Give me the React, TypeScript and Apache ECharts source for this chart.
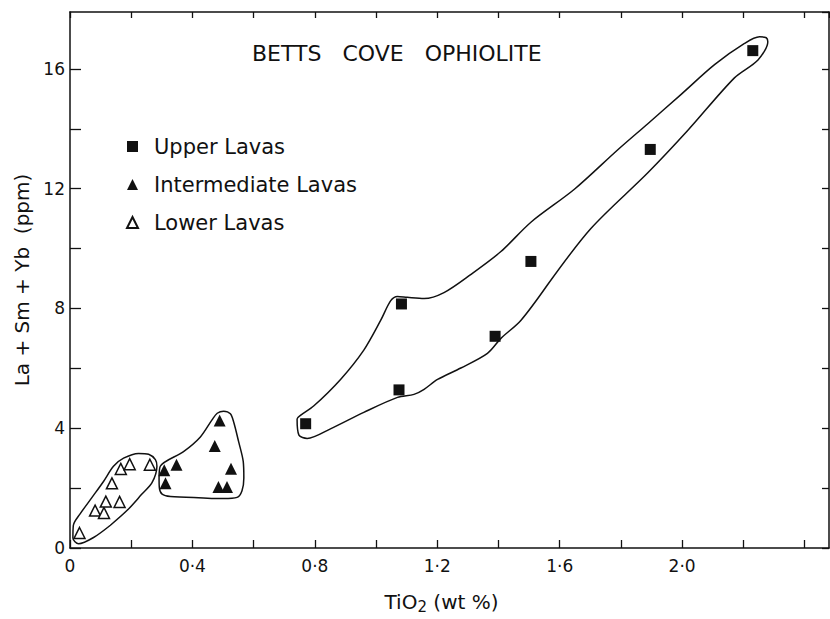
import React, { useEffect, useRef } from 'react';
import * as echarts from 'echarts';

const FONT = '"DejaVu Sans", "Liberation Sans", sans-serif';
const INK = '#111111';

// Axis ranges / ticks
const X_MIN = 0;
const X_MAX = 2.48;
const X_STEP = 0.2;
const Y_MIN = 0;
const Y_MAX = 17.9;
const Y_STEP = 2;

const titleText = 'BETTS   COVE   OPHIOLITE';
const seriesNames = ['Upper Lavas', 'Intermediate Lavas', 'Lower Lavas'];

// Upper Lavas (filled squares)
const upperTiO2 = [0.77, 1.075, 1.083, 1.389, 1.506, 1.896, 2.231];
const upperREE = [4.15, 5.28, 8.15, 7.07, 9.57, 13.31, 16.61];

// Intermediate Lavas (filled triangles)
const interTiO2 = [0.489, 0.473, 0.308, 0.348, 0.312, 0.526, 0.485, 0.513];
const interREE = [4.26, 3.41, 2.6, 2.78, 2.16, 2.65, 2.04, 2.04];

// Lower Lavas (open triangles)
const lowerTiO2 = [0.031, 0.082, 0.111, 0.117, 0.162, 0.137, 0.166, 0.195, 0.261];
const lowerREE = [0.5, 1.25, 1.17, 1.55, 1.54, 2.16, 2.64, 2.8, 2.78];

// Hand-drawn field outlines (TiO2, La+Sm+Yb)
const lowerField = [
  [0.132, 0.76], [0.186, 1.25], [0.235, 1.8], [0.268, 2.18], [0.284, 2.73], [0.279, 2.95],
  [0.257, 3.13], [0.224, 3.16], [0.175, 3.0], [0.142, 2.73], [0.11, 2.23], [0.072, 1.69],
  [0.033, 1.14], [0.011, 0.76], [0.0095, 0.33], [0.028, 0.14], [0.077, 0.35], [0.132, 0.76],
];
const interField = [
  [0.404, 1.69], [0.328, 1.72], [0.301, 1.8], [0.292, 2.01], [0.291, 2.34], [0.295, 2.73],
  [0.371, 3.22], [0.426, 3.71], [0.464, 4.28], [0.481, 4.5], [0.502, 4.57], [0.524, 4.48],
  [0.535, 4.2], [0.551, 3.55], [0.566, 2.89], [0.568, 2.34], [0.562, 1.91], [0.546, 1.69],
  [0.502, 1.65], [0.404, 1.69],
];
const upperField = [
  [1.561, 8.8], [1.702, 10.67], [1.888, 12.53], [2.019, 13.95], [2.171, 15.7], [2.248, 16.3],
  [2.28, 16.91], [2.275, 17.04], [2.253, 17.07], [2.204, 16.85], [2.106, 16.14], [1.997, 15.15],
  [1.888, 14.17], [1.79, 13.3], [1.648, 11.98], [1.506, 10.88], [1.408, 9.9], [1.309, 9.13],
  [1.222, 8.53], [1.157, 8.33], [1.102, 8.37], [1.07, 8.4], [1.048, 8.26], [1.015, 7.6],
  [0.96, 6.61], [0.884, 5.63], [0.797, 4.75], [0.753, 4.43], [0.742, 4.31], [0.748, 3.77],
  [0.775, 3.66], [0.851, 3.98], [0.96, 4.53], [1.07, 5.03], [1.124, 5.13], [1.157, 5.3],
  [1.201, 5.63], [1.277, 6.01], [1.364, 6.5], [1.408, 7.0], [1.473, 7.6], [1.561, 8.8],
];

const pairs = (xs: number[], ys: number[]) => xs.map((x, i) => [x, ys[i]]);

const xLabel = (v: number) => {
  const k = v / 0.4;
  if (Math.abs(k - Math.round(k)) > 1e-6 || v > 2.1) return '';
  if (Math.abs(v) < 1e-9) return '0';
  return v.toFixed(1).replace('.', '·');
};
const yLabel = (v: number) => {
  const k = v / 4;
  if (Math.abs(k - Math.round(k)) > 1e-6 || v > 16.5) return '';
  return String(Math.round(v));
};

const axisLine = { show: true, onZero: false, lineStyle: { color: INK, width: 1.5 } };
const tickStyle = { color: INK, width: 1.3 };

const fieldSeries = (data: number[][]) => ({
  type: 'line',
  data,
  smooth: 0.3,
  symbol: 'none',
  silent: true,
  z: 1,
  lineStyle: { color: INK, width: 1.5 },
});

export default function App() {
  const ref = useRef<HTMLDivElement>(null);
  useEffect(() => {
    const chart = echarts.init(ref.current!, null, { renderer: 'svg' });
    chart.setOption({
      animation: false,
      backgroundColor: '#fff',
      textStyle: { fontFamily: FONT, color: INK },
      title: {
        text: titleText,
        left: 252,
        top: 42,
        padding: 0,
        textStyle: { fontSize: 22, fontWeight: 'normal', fontFamily: FONT, color: INK },
      },
      legend: {
        data: [
          { name: seriesNames[0], icon: 'rect' },
          { name: seriesNames[1], icon: 'triangle' },
          { name: seriesNames[2], icon: 'triangle' },
        ],
        orient: 'vertical',
        left: 126,
        top: 136,
        padding: 0,
        itemWidth: 11,
        itemHeight: 11,
        itemGap: 17,
        selectedMode: false,
        textStyle: { fontSize: 21, fontFamily: FONT, color: INK, padding: [0, 0, 0, 11] },
      },
      grid: { left: 70, top: 12, width: 759, height: 546, containLabel: false },
      xAxis: [
        {
          type: 'value',
          position: 'bottom',
          min: X_MIN,
          max: X_MAX,
          interval: X_STEP,
          axisLine,
          axisTick: { show: true, inside: true, length: 8, lineStyle: tickStyle },
          axisLabel: { formatter: xLabel, margin: 9, fontSize: 17, fontFamily: FONT, color: INK, showMaxLabel: false },
          splitLine: { show: false },
          name: 'TiO{s|2} (wt %)',
          nameLocation: 'middle',
          nameGap: 42,
          nameTextStyle: {
            fontSize: 20,
            fontFamily: FONT,
            color: INK,
            padding: [0, 16, 0, 0],
            rich: { s: { fontSize: 15, fontFamily: FONT, color: INK, padding: [9, 0, 0, 0] } },
          },
        },
        {
          type: 'value',
          position: 'top',
          min: X_MIN,
          max: X_MAX,
          interval: X_STEP,
          axisLine,
          axisTick: { show: true, inside: true, length: 6, lineStyle: tickStyle },
          axisLabel: { show: false },
          splitLine: { show: false },
        },
      ],
      yAxis: [
        {
          type: 'value',
          position: 'left',
          min: Y_MIN,
          max: Y_MAX,
          interval: Y_STEP,
          axisLine,
          axisTick: { show: true, inside: true, length: 11, lineStyle: tickStyle },
          axisLabel: { formatter: yLabel, margin: 5, fontSize: 17, fontFamily: FONT, color: INK, showMaxLabel: false },
          splitLine: { show: false },
          name: 'La + Sm + Yb  (ppm)',
          nameLocation: 'middle',
          nameGap: 22,
          nameTextStyle: { fontSize: 20, fontFamily: FONT, color: INK },
        },
        {
          type: 'value',
          position: 'right',
          min: Y_MIN,
          max: Y_MAX,
          interval: Y_STEP,
          axisLine,
          axisTick: { show: true, inside: true, length: 7, lineStyle: tickStyle },
          axisLabel: { show: false },
          splitLine: { show: false },
        },
      ],
      series: [
        fieldSeries(lowerField),
        fieldSeries(interField),
        fieldSeries(upperField),
        {
          name: seriesNames[0],
          type: 'scatter',
          data: pairs(upperTiO2, upperREE),
          symbol: 'rect',
          symbolSize: 11,
          z: 3,
          itemStyle: { color: INK, opacity: 1 },
        },
        {
          name: seriesNames[1],
          type: 'scatter',
          data: pairs(interTiO2, interREE),
          symbol: 'triangle',
          symbolSize: 12,
          z: 3,
          itemStyle: { color: INK, opacity: 1 },
        },
        {
          name: seriesNames[2],
          type: 'scatter',
          data: pairs(lowerTiO2, lowerREE),
          symbol: 'triangle',
          symbolSize: 11,
          z: 3,
          itemStyle: { color: '#fff', borderColor: INK, borderWidth: 1.5, opacity: 1 },
        },
      ],
    });
    return () => chart.dispose();
  }, []);
  return (
    <div
      ref={ref}
      style={{ position: 'fixed', left: 0, top: 0, width: 830, height: 619, background: '#fff' }}
    />
  );
}
